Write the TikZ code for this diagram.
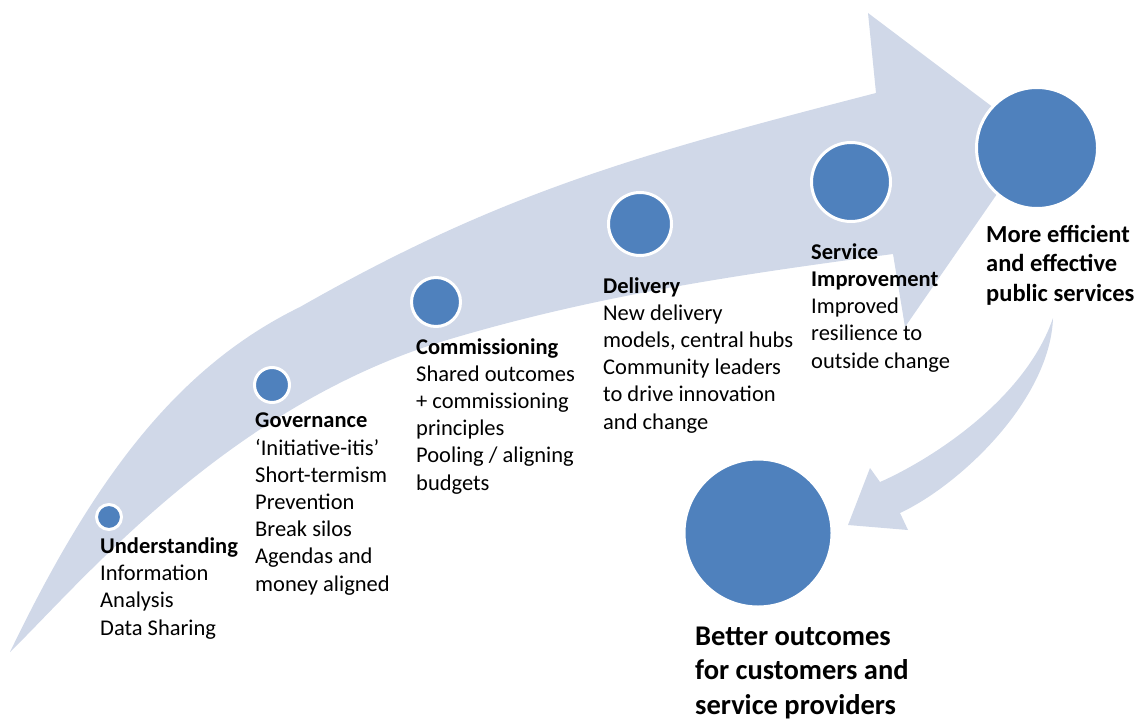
\documentclass[tikz,border=0pt]{standalone}
\usepackage{fontspec}
\setmainfont{Carlito}
\definecolor{bandgray}{RGB}{208,216,232}
\definecolor{dotblue}{RGB}{79,129,189}
\tikzset{
	bluedot/.style={circle, fill=dotblue, draw=white, line width=3pt, inner sep=0pt, minimum size=#1},
	stagetext/.style={anchor=base west, align=left, inner sep=0pt, font=\fontsize{22.5}{27.2}\selectfont},
	goaltext/.style={anchor=base west, align=left, inner sep=0pt, font=\bfseries\fontsize{24.5}{29.5}\selectfont},
	endtext/.style={anchor=base west, align=left, inner sep=0pt, font=\bfseries\fontsize{28.5}{34.5}\selectfont}
}
\begin{document}
\begin{tikzpicture}[x=1pt, y=-1pt]
		\useasboundingbox (0,0) rectangle (1147,722);
		\fill[bandgray] (10,652) .. controls (92,482) and (175,368) .. (300,307)
			.. controls (500,193) and (636,155) .. (876,93)
			-- (868,13) -- (1035,139) -- (905,327) -- (893,254)
			.. controls (743,274) and (597,295) .. (447,340)
			.. controls (227,406) and (80,584) .. (10,652) -- cycle;
		\fill[bandgray] (1053,318) .. controls (1050,400) and (960,485) .. (900,513)
			-- (908,530) -- (848,525) -- (870,468) -- (880,482)
			.. controls (930,460) and (1025,400) .. (1053,318) -- cycle;
		\foreach \n/\x/\y/\s in {und/109/517/25, gov/272/385/35, com/436/302/49, del/640/224/63, ser/851/182/79, eff/1037/148/121, out/758/533/148}{
			\node[bluedot=\s] (\n) at (\x,\y) {};
		}
		\node[stagetext] (undtext) at (100,635) {\textbf{Understanding}\\Information\\Analysis\\Data Sharing};
		\node[stagetext] (govtext) at (255,591) {\textbf{Governance}\\‘Initiative-itis’\\Short-termism\\Prevention\\Break silos\\Agendas and\\money aligned};
		\node[stagetext] (comtext) at (416,490) {\textbf{Commissioning}\\Shared outcomes\\+ commissioning\\principles\\Pooling / aligning\\budgets};
		\node[stagetext] (deltext) at (603,429) {\textbf{Delivery}\\New delivery\\models, central hubs\\Community leaders\\to drive innovation\\and change};
		\node[stagetext] (sertext) at (811,368) {\textbf{Service}\\\textbf{Improvement}\\Improved\\resilience to\\outside change};
		\node[goaltext] (efftext) at (986,301) {More efficient\\and effective\\public services};
		\node[endtext] (outtext) at (695,714) {Better outcomes\\for customers and\\service providers};
\end{tikzpicture}
\end{document}
